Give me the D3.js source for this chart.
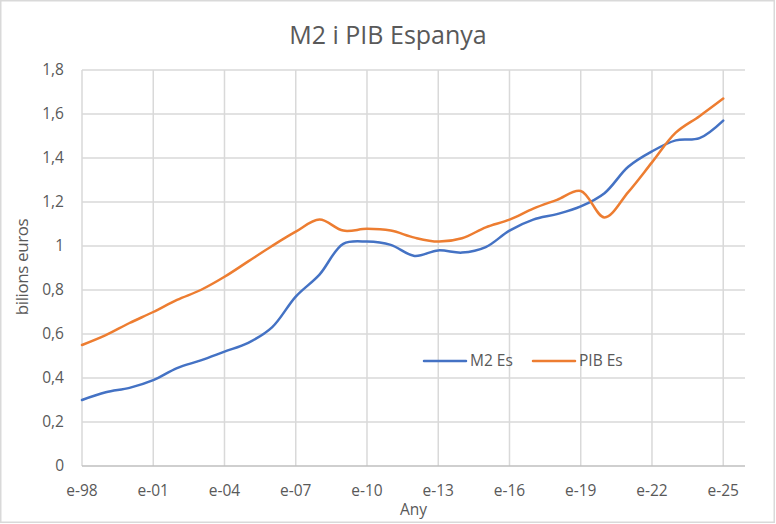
<!DOCTYPE html>
<html>
<head>
<meta charset="utf-8">
<script src="https://cdn.jsdelivr.net/npm/d3@7"></script>
<style>
  body { margin: 0; background: #fff; }
  svg text { font-family: "Open Sans", "Noto Sans", sans-serif; fill: #595959; }
</style>
</head>
<body>
<div id="container"></div>
<script>
// M2 i PIB Espanya - yearly values (January), bilions d'euros
var years = [1998, 1999, 2000, 2001, 2002, 2003, 2004, 2005, 2006, 2007, 2008, 2009, 2010, 2011,
             2012, 2013, 2014, 2015, 2016, 2017, 2018, 2019, 2020, 2021, 2022, 2023, 2024, 2025];
var m2 = [0.30, 0.335, 0.355, 0.39, 0.445, 0.48, 0.52, 0.56, 0.63, 0.77, 0.87, 1.01, 1.02, 1.005,
          0.955, 0.98, 0.97, 0.995, 1.07, 1.12, 1.145, 1.18, 1.24, 1.36, 1.43, 1.48, 1.49, 1.57];
var pib = [0.55, 0.595, 0.65, 0.70, 0.755, 0.80, 0.86, 0.93, 1.0, 1.065, 1.12, 1.07, 1.078, 1.07,
           1.038, 1.02, 1.035, 1.085, 1.12, 1.17, 1.21, 1.25, 1.13, 1.245, 1.38, 1.515, 1.59, 1.67];
var seriesNames = ["M2 Es", "PIB Es"];
var seriesColors = ["#4472c4", "#ed7d31"];
var xTickYears = [1998, 2001, 2004, 2007, 2010, 2013, 2016, 2019, 2022, 2025];
var yTicks = [0, 0.2, 0.4, 0.6, 0.8, 1, 1.2, 1.4, 1.6, 1.8];

var width = 776, height = 524;
var plotLeft = 82, plotRight = 745, plotTop = 70, plotBottom = 466;

var svg = d3.select("div#container")
  .append("svg")
  .attr("width", width)
  .attr("height", height);

// chart border
svg.append("rect")
  .attr("x", 0.75).attr("y", 0.75)
  .attr("width", width - 2.5).attr("height", height - 2.5)
  .style("fill", "#fff")
  .style("stroke", "#d9d9d9")
  .style("stroke-width", 1.5);

var x = d3.scaleLinear().domain([1998, 2025 + 11 / 12]).range([plotLeft, plotRight]);
var y = d3.scaleLinear().domain([0, 1.8]).range([plotBottom, plotTop]);

var fmt = function(d) { return d3.format(".1f")(d).replace(".", ",").replace(",0", ""); };

// horizontal gridlines
svg.append("g")
  .selectAll("line")
  .data(yTicks.slice(1))
  .enter().append("line")
  .attr("x1", plotLeft).attr("x2", plotRight)
  .attr("y1", function(d) { return y(d); })
  .attr("y2", function(d) { return y(d); })
  .style("stroke", "#d9d9d9").style("stroke-width", 1.5);

// vertical gridlines
svg.append("g")
  .selectAll("line")
  .data(xTickYears)
  .enter().append("line")
  .attr("x1", function(d) { return x(d); })
  .attr("x2", function(d) { return x(d); })
  .attr("y1", plotTop).attr("y2", plotBottom)
  .style("stroke", "#d9d9d9").style("stroke-width", 1.5);

// bottom axis line
svg.append("line")
  .attr("x1", plotLeft).attr("x2", plotRight)
  .attr("y1", plotBottom).attr("y2", plotBottom)
  .style("stroke", "#bfbfbf").style("stroke-width", 1.5);

// y tick labels
svg.append("g")
  .selectAll("text")
  .data(yTicks)
  .enter().append("text")
  .attr("x", plotLeft - 18)
  .attr("y", function(d) { return y(d); })
  .attr("dy", "0.35em")
  .attr("text-anchor", "end")
  .style("font-size", "15.5px")
  .text(fmt);

// x tick labels
svg.append("g")
  .selectAll("text")
  .data(xTickYears)
  .enter().append("text")
  .attr("x", function(d) { return x(d); })
  .attr("y", 496)
  .attr("text-anchor", "middle")
  .style("font-size", "15.5px")
  .text(function(d) { return "e-" + String(d).slice(2); });

// title and axis titles
svg.append("text")
  .attr("x", 388).attr("y", 44)
  .attr("text-anchor", "middle")
  .style("font-size", "25px")
  .text("M2 i PIB Espanya");

svg.append("text")
  .attr("x", (plotLeft + plotRight) / 2).attr("y", 515)
  .attr("text-anchor", "middle")
  .style("font-size", "15.5px")
  .text("Any");

svg.append("text")
  .attr("transform", "translate(28,267) rotate(-90)")
  .attr("text-anchor", "middle")
  .style("font-size", "17px")
  .style("letter-spacing", "-0.4px")
  .text("bilions euros");

// lines
var line = d3.line()
  .x(function(d) { return x(d[0]); })
  .y(function(d) { return y(d[1]); })
  .curve(d3.curveCatmullRom.alpha(0.5));

[m2, pib].forEach(function(vals, i) {
  svg.append("path")
    .datum(years.map(function(yr, j) { return [yr, vals[j]]; }))
    .attr("d", line)
    .style("fill", "none")
    .style("stroke", seriesColors[i])
    .style("stroke-width", 2.5)
    .style("stroke-linecap", "round");
});

// legend
var legendX = [424, 533];
seriesNames.forEach(function(name, i) {
  var g = svg.append("g").attr("transform", "translate(" + legendX[i] + ",361)");
  g.append("line")
    .attr("x1", 0).attr("x2", 42)
    .style("stroke", seriesColors[i]).style("stroke-width", 2.5)
    .style("stroke-linecap", "round");
  g.append("text")
    .attr("x", 46).attr("dy", "0.35em")
    .style("font-size", "15.5px")
    .text(name);
});
</script>
</body>
</html>
